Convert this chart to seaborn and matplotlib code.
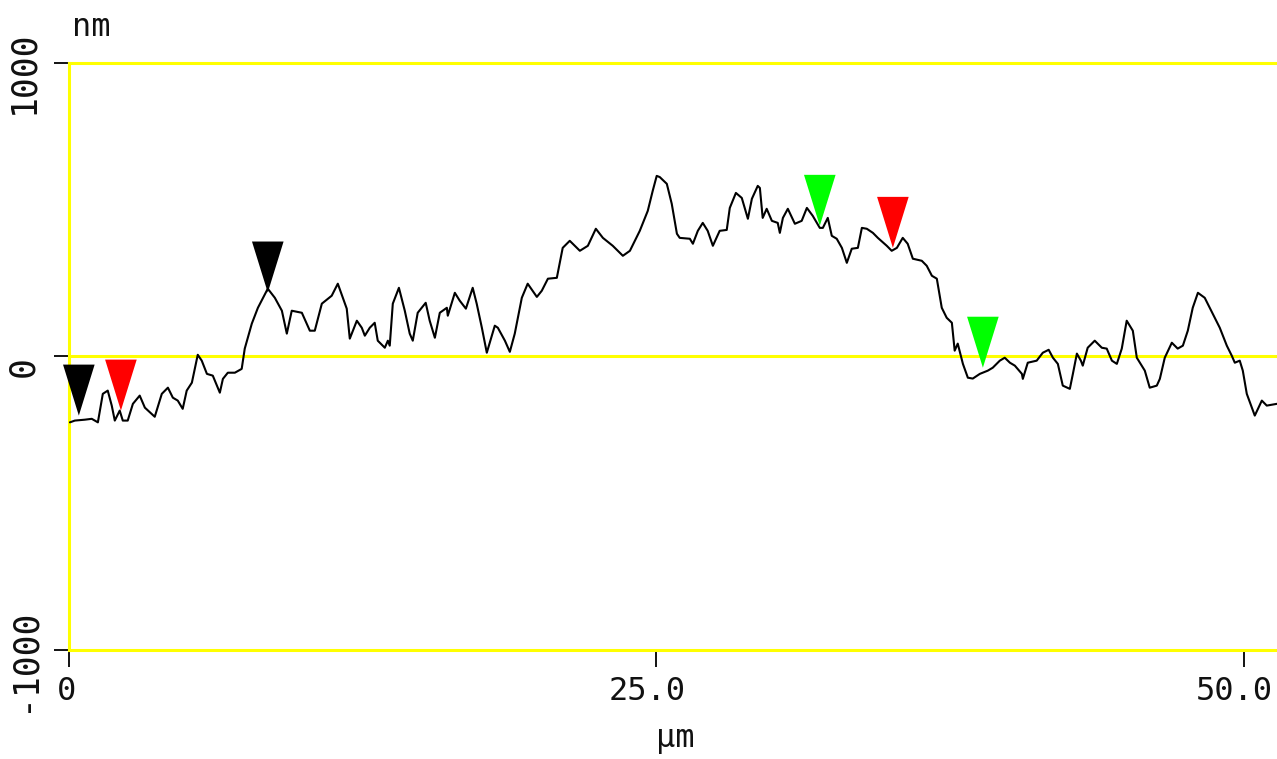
import numpy as np
import pandas as pd
import matplotlib
matplotlib.use("Agg")
import matplotlib.pyplot as plt
from matplotlib.path import Path
from matplotlib.transforms import ScaledTranslation
import seaborn as sns

# Surface height profile along the scan line
position_um = [
    0.06, 0.27, 0.69, 0.99, 1.25, 1.46, 1.67, 1.84, 1.97, 2.18, 2.31, 2.52, 2.74, 3.03, 3.25,
    3.67, 3.97, 4.23, 4.44, 4.65, 4.86, 5.03, 5.25, 5.50, 5.67, 5.89, 6.14, 6.44, 6.57, 6.78,
    7.08, 7.37, 7.50, 7.80, 8.06, 8.48, 8.78, 9.08, 9.29, 9.50, 9.93, 10.27, 10.48, 10.78, 11.20,
    11.46, 11.84, 11.97, 12.27, 12.48, 12.61, 12.82, 13.03, 13.16, 13.46, 13.59, 13.67, 13.80, 14.06, 14.31,
    14.52, 14.65, 14.86, 15.20, 15.37, 15.59, 15.80, 16.10, 16.14, 16.44, 16.65, 16.91, 17.20, 17.37, 17.59,
    17.80, 18.14, 18.27, 18.57, 18.78, 18.99, 19.29, 19.54, 19.93, 20.14, 20.40, 20.78, 21.03, 21.33, 21.76,
    22.10, 22.44, 22.74, 23.16, 23.59, 23.89, 24.31, 24.65, 24.86, 25.03, 25.16, 25.46, 25.67, 25.89, 26.01,
    26.44, 26.57, 26.78, 26.99, 27.20, 27.42, 27.71, 28.01, 28.14, 28.40, 28.65, 28.91, 29.08, 29.33, 29.42,
    29.54, 29.71, 29.93, 30.18, 30.27, 30.40, 30.61, 30.91, 31.20, 31.42, 31.67, 31.97, 32.10, 32.31, 32.48,
    32.69, 32.91, 33.12, 33.33, 33.59, 33.76, 33.97, 34.23, 34.44, 34.82, 35.03, 35.25, 35.50, 35.71, 35.93,
    36.31, 36.52, 36.74, 36.95, 37.16, 37.37, 37.59, 37.71, 37.84, 38.06, 38.27, 38.48, 38.78, 39.12, 39.33,
    39.63, 39.84, 40.06, 40.27, 40.57, 40.61, 40.82, 41.20, 41.46, 41.71, 41.89, 42.10, 42.31, 42.61, 42.74,
    42.91, 43.08, 43.16, 43.37, 43.67, 43.97, 44.18, 44.40, 44.61, 44.82, 45.03, 45.29, 45.46, 45.80, 46.01,
    46.31, 46.44, 46.65, 46.95, 47.20, 47.42, 47.63, 47.84, 48.06, 48.35, 48.69, 48.99, 49.29, 49.50, 49.63,
    49.84, 49.97, 50.14, 50.48, 50.78, 50.99, 51.42,
]
height_nm = [
    -225, -219, -216, -213, -225, -128, -117, -168, -219, -185, -219, -219, -162, -134, -175,
    -206, -128, -107, -141, -151, -179, -117, -90, 5, -15, -60, -66, -124, -77, -56,
    -56, -43, 26, 111, 165, 230, 199, 155, 77, 155, 148, 87, 87, 179, 206,
    247, 162, 60, 121, 97, 70, 97, 114, 53, 29, 53, 36, 179, 233, 155,
    77, 53, 148, 182, 121, 63, 148, 165, 138, 216, 189, 162, 233, 179, 97,
    12, 104, 97, 53, 15, 77, 199, 247, 202, 223, 264, 267, 369, 393, 359,
    376, 434, 403, 376, 342, 359, 427, 495, 563, 614, 610, 587, 519, 417, 403,
    400, 383, 427, 454, 427, 376, 427, 430, 505, 556, 539, 468, 536, 580, 573,
    471, 502, 461, 454, 420, 471, 502, 451, 461, 505, 478, 437, 437, 471, 410,
    400, 369, 318, 366, 369, 437, 434, 420, 403, 376, 359, 369, 403, 383, 332,
    325, 308, 274, 264, 165, 131, 114, 19, 43, -26, -73, -76, -60, -49, -39,
    -15, -5, -22, -32, -60, -77, -22, -15, 12, 22, -5, -26, -100, -111, -60,
    9, -15, -32, 29, 53, 29, 26, -15, -26, 26, 121, 87, -5, -49, -107,
    -100, -77, -5, 46, 26, 36, 87, 165, 216, 199, 145, 97, 36, 2, -22,
    -15, -49, -128, -202, -151, -168, -162,
]

# Cursor markers placed on the profile
cursor_um = [0.44, 2.23, 8.48, 31.97, 35.08, 38.91]
cursor_nm = [-202, -185, 217, 444, 369, -39]
cursor_colors = ["#000000", "#ff0000", "#000000", "#00ff00", "#ff0000", "#00ff00"]

x_ticks = [0, 25, 50]
x_tick_labels = ["0", "25.0", "50.0"]
y_ticks = [-1000, 0, 1000]
y_tick_labels = ["-1000", "0", "1000"]

sns.set_theme(style="white")
plt.rcParams["font.family"] = ["DejaVu Sans Mono", "DejaVu Sans"]

W, H = 1277, 759
fig = plt.figure(figsize=(W / 100, H / 100), dpi=100, facecolor="white")
ax = fig.add_axes([68.5 / W, 1 - 650 / H, 1 - 68.5 / W, (650 - 62.5) / H])
ax.set_facecolor("white")

profile = pd.DataFrame({"x": position_um, "z": height_nm})
sns.lineplot(data=profile, x="x", y="z", sort=False, estimator=None,
             color="black", linewidth=1.5, ax=ax, zorder=3)

# Downward-pointing cursor triangle with its tip at the anchor point
tri = Path([(0, 0), (-0.31, 1), (0.31, 1), (0, 0)],
           [Path.MOVETO, Path.LINETO, Path.LINETO, Path.CLOSEPOLY])
ax.scatter(cursor_um, cursor_nm, marker=tri, s=5390, c=cursor_colors,
           edgecolors="none", zorder=4, clip_on=False)

ax.set_xlim(0, (W - 68.5) / 23.5)
ax.set_ylim(-1000, 1000)

yellow = "#ffff00"
for side in ["left", "top", "bottom"]:
    ax.spines[side].set_visible(True)
    ax.spines[side].set_color(yellow)
    ax.spines[side].set_linewidth(2.2)
ax.spines["right"].set_visible(False)
ax.axhline(0, color=yellow, linewidth=2.2, zorder=1)

ax.set_xticks(x_ticks)
ax.set_xticklabels(x_tick_labels)
ax.set_yticks(y_ticks)
ax.set_yticklabels(y_tick_labels, rotation=90, va="center")
ax.tick_params(axis="x", direction="out", length=12, width=1.3, color="black",
               pad=7, labelsize=23, labelcolor="#111111", bottom=True)
ax.tick_params(axis="y", direction="out", length=10.5, width=1.3, color="black",
               pad=10, labelsize=25, labelcolor="#111111", left=True)
ax.set_xlabel("")
ax.set_ylabel("")

# Nudge tick labels the way the instrument software lays them out
for lab in ax.get_xticklabels():
    dx = -2 if len(lab.get_text()) == 1 else -9
    lab.set_transform(lab.get_transform() + ScaledTranslation(dx / 100, 0, fig.dpi_scale_trans))
for lab in ax.get_yticklabels():
    lab.set_transform(lab.get_transform() + ScaledTranslation(0, -10 / 100, fig.dpi_scale_trans))

fig.text(72 / W, 1 - 36 / H, "nm", fontsize=23, color="#111111",
         ha="left", va="baseline")
fig.text(675 / W, 1 - 747 / H, "µm", fontsize=23, color="#111111",
         ha="center", va="baseline")

fig.savefig("out.png", dpi=100, facecolor="white")
